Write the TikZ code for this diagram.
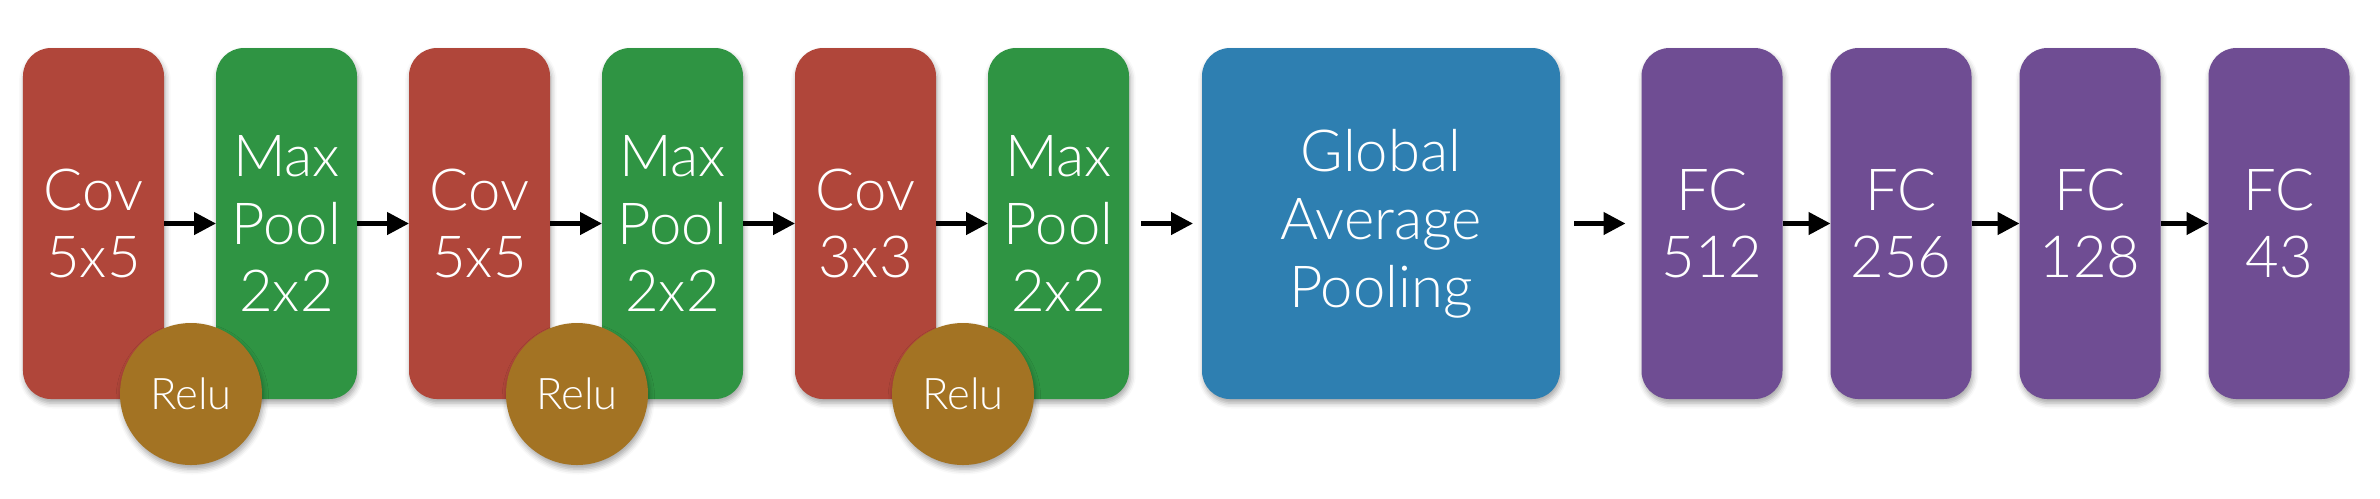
\documentclass[tikz,border=0pt]{standalone}
\usepackage{fontspec}
\setmainfont{Lato Light}
\usetikzlibrary{arrows.meta,shadows.blur}
\definecolor{covred}{HTML}{B0463A}
\definecolor{poolgreen}{HTML}{2F9443}
\definecolor{relubrown}{HTML}{A37323}
\definecolor{gapblue}{HTML}{2E7FB1}
\definecolor{fcpurple}{HTML}{6F4D93}
\begin{document}
\begin{tikzpicture}[layer/.style={rounded corners=0.28cm,minimum width=1.41cm,minimum height=3.51cm,inner sep=0pt,outer sep=0pt,
		text=white,align=center,font=\fontsize{16.5}{19.3}\selectfont,
		blur shadow={shadow xshift=0.4pt,shadow yshift=-1.2pt,shadow blur radius=1.5pt,shadow opacity=35}},
	cov/.style={layer,fill=covred},
	pool/.style={layer,fill=poolgreen},
	fc/.style={layer,fill=fcpurple},
	relu/.style={circle,fill=relubrown,minimum size=1.42cm,inner sep=0pt,text=white,font=\fontsize{12.4}{14}\selectfont,
		blur shadow={shadow xshift=0.4pt,shadow yshift=-1.2pt,shadow blur radius=1.5pt,shadow opacity=35}},
	flow/.style={-{Triangle[length=0.22cm,width=0.22cm]},line width=0.045cm}]
	\useasboundingbox (0,2.235) rectangle (23.8,-2.745);
	\node[cov] at (0.935,0)		(cov1) {Cov\\5x5};
	\node[pool] at (2.865,0)	(pool1) {Max\\Pool\\2x2};
	\node[cov] at (4.795,0)		(cov2) {Cov\\5x5};
	\node[pool] at (6.725,0)	(pool2) {Max\\Pool\\2x2};
	\node[cov] at (8.655,0)		(cov3) {Cov\\3x3};
	\node[pool] at (10.585,0)	(pool3) {Max\\Pool\\2x2};
	\node[layer,fill=gapblue,minimum width=3.58cm] at (13.81,0) (gap) {Global\\Average\\Pooling};
	\node[fc] at (17.12,0)		(fc1) {FC\\512};
	\node[fc] at (19.01,0)		(fc2) {FC\\256};
	\node[fc] at (20.90,0)		(fc3) {FC\\128};
	\node[fc] at (22.79,0)		(fc4) {FC\\43};
	\node[relu] at ([xshift=0.27cm,yshift=0.05cm]cov1.south east) (relu1) {Relu};
	\node[relu] at ([xshift=0.27cm,yshift=0.05cm]cov2.south east) (relu2) {Relu};
	\node[relu] at ([xshift=0.27cm,yshift=0.05cm]cov3.south east) (relu3) {Relu};
	\draw[flow] (cov1) -- (pool1);
	\draw[flow] (pool1) -- (cov2);
	\draw[flow] (cov2) -- (pool2);
	\draw[flow] (pool2) -- (cov3);
	\draw[flow] (cov3) -- (pool3);
	\draw[flow,shorten <=0.12cm,shorten >=0.09cm] (pool3) -- (gap);
	\draw[flow,shorten <=0.14cm,shorten >=0.16cm] (gap) -- (fc1);
	\draw[flow] (fc1) -- (fc2);
	\draw[flow] (fc2) -- (fc3);
	\draw[flow] (fc3) -- (fc4);
\end{tikzpicture}
\end{document}
